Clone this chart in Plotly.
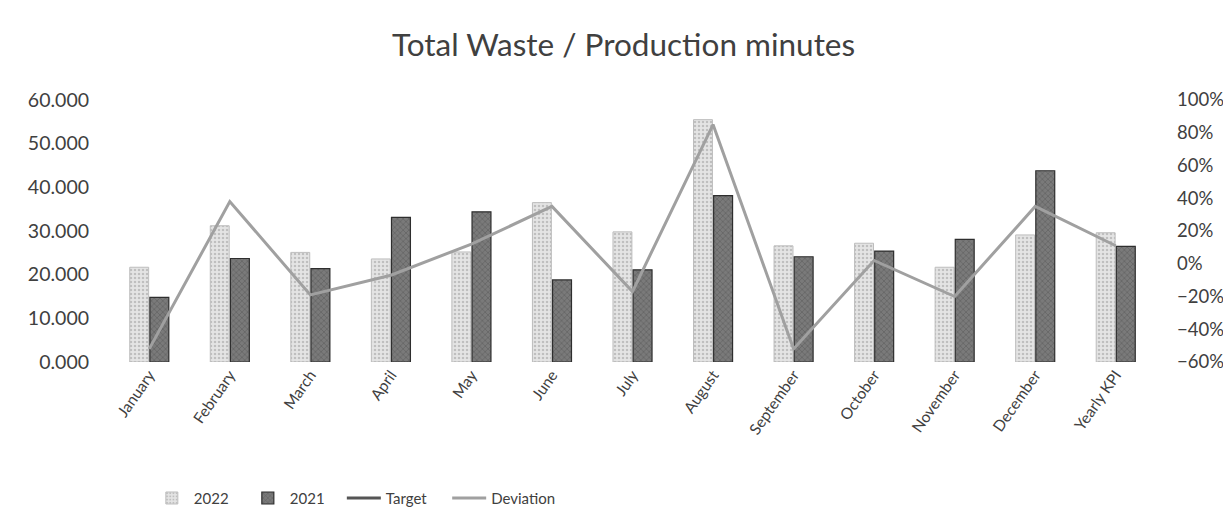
import plotly.graph_objects as go

categories = ["January", "February", "March", "April", "May", "June", "July",
              "August", "September", "October", "November", "December", "Yearly KPI"]
waste_2022 = [21.7, 31.2, 25.1, 23.6, 25.2, 36.5, 29.8, 55.5, 26.6, 27.2, 21.7, 29.1, 29.6]
waste_2021 = [14.8, 23.7, 21.4, 33.1, 34.4, 18.8, 21.1, 38.1, 24.1, 25.4, 28.1, 43.8, 26.5]
deviation = [-0.52, 0.38, -0.19, -0.07, 0.12, 0.35, -0.17, 0.85, -0.52, 0.02, -0.20, 0.35, 0.11]
target = [None] * len(categories)

font_family = "Lato, 'Open Sans', sans-serif"

fig = go.Figure()
fig.add_trace(go.Bar(
    x=categories, y=waste_2022, name="2022",
    marker=dict(color="#e4e4e4", line=dict(color="#bdbdbd", width=1),
                pattern=dict(shape=".", fgcolor="#9a9a9a", size=4, solidity=0.3)),
))
fig.add_trace(go.Bar(
    x=categories, y=waste_2021, name="2021",
    marker=dict(color="#7a7a7a", line=dict(color="#2e2e2e", width=1.2),
                pattern=dict(shape="x", fgcolor="#444444", size=4, solidity=0.3)),
))
fig.add_trace(go.Scatter(
    x=categories, y=target, name="Target", mode="lines", yaxis="y2",
    line=dict(color="#555555", width=3), showlegend=True,
))
fig.add_trace(go.Scatter(
    x=categories, y=deviation, name="Deviation", mode="lines", yaxis="y2",
    line=dict(color="#a0a0a0", width=3), legend="legend2",
))

fig.update_layout(
    width=1231, height=532,
    paper_bgcolor="white", plot_bgcolor="white",
    margin=dict(l=101, r=83, t=92, b=178),
    font=dict(family=font_family, color="#404040", size=15),
    title=dict(text="Total Waste / Production minutes", x=0.5, xanchor="center",
               y=0.93, yanchor="middle", font=dict(size=31.5, color="#404040")),
    barmode="group", bargap=0.5, bargroupgap=0.06,
    xaxis=dict(tickangle=-55, showgrid=False, showline=False, ticks="",
               tickfont=dict(size=15.5), categoryorder="array", categoryarray=categories),
    yaxis=dict(range=[0, 60], dtick=10, tickformat=".3f", showgrid=False,
               zeroline=False, showline=False, ticks="", tickfont=dict(size=19.5),
               ticklabelstandoff=19),
    yaxis2=dict(range=[-0.6, 1.0], dtick=0.2, tickformat=".0%", overlaying="y",
                side="right", showgrid=False, zeroline=False, showline=False,
                ticks="", tickfont=dict(size=18.5), ticklabelstandoff=20),
    legend=dict(orientation="h", x=0.039, xanchor="left", y=-0.52, yanchor="middle",
                font=dict(size=15), itemwidth=34, entrywidth=47,
                entrywidthmode="pixels", traceorder="normal"),
    legend2=dict(orientation="h", x=0.323, xanchor="left", y=-0.52, yanchor="middle",
                 font=dict(size=15), itemwidth=34),
)

fig.write_html("out.html")
